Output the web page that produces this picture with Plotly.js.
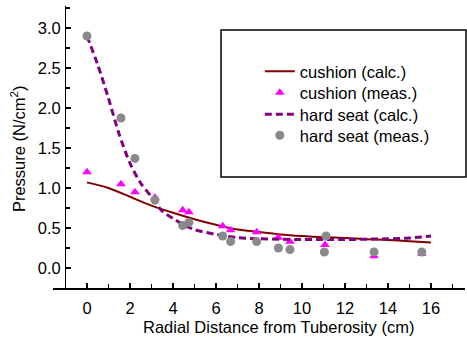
<!DOCTYPE html>
<html>
<head>
<meta charset="utf-8">
<script src="https://cdn.plot.ly/plotly-3.0.1.min.js"></script>
<style>html,body{margin:0;padding:0;background:#fff;}#chart{width:467px;height:341px;}</style>
</head>
<body>
<div id="chart"></div>
<script>
// Cushion calculated curve
const cushionCalcX = [0,1,2,3,4,5,6,7,8,9,10,11,12,13,14,15,16];
const cushionCalcY = [1.07,1.00,0.89,0.78,0.69,0.61,0.54,0.48,0.45,0.42,0.40,0.385,0.375,0.36,0.35,0.335,0.32];
// Cushion measured
const cushionMeasX = [0,1.58,2.23,3.16,4.45,4.74,6.31,6.68,7.89,8.9,9.44,11.07,13.35,15.57];
const cushionMeasY = [1.20,1.05,0.95,0.88,0.725,0.70,0.525,0.475,0.45,0.38,0.33,0.29,0.15,0.18];
// Hard seat calculated curve
const hardCalcX = [0,0.5,1,1.5,2,2.5,3,3.5,4,4.5,5,6,7,8,9,10,11,12,13,14,15,16];
const hardCalcY = [2.90,2.54,2.12,1.67,1.31,1.06,0.89,0.71,0.62,0.54,0.48,0.42,0.38,0.365,0.36,0.355,0.355,0.355,0.36,0.365,0.375,0.40];
// Hard seat measured
const hardMeasX = [0,1.58,2.23,3.16,4.45,4.74,6.31,6.68,7.89,8.9,9.44,11.04,11.12,13.35,15.57];
const hardMeasY = [2.90,1.875,1.37,0.85,0.53,0.57,0.40,0.33,0.33,0.25,0.23,0.20,0.40,0.20,0.20];

const seriesNames = ['cushion (calc.)','cushion (meas.)','hard seat (calc.)','hard seat (meas.)'];
const xTitle = 'Radial Distance from Tuberosity (cm)';
const yTitle = 'Pressure (N/cm<sup>2</sup>)';

const FONT = 'Liberation Sans, Arial, sans-serif';
const FS = 16.5;

const traces = [
  {x: cushionCalcX, y: cushionCalcY, name: seriesNames[0], mode: 'lines', legend: 'legend',
   line: {color: '#800000', width: 2, shape: 'spline', smoothing: 0.8}},
  {x: cushionMeasX, y: cushionMeasY, name: seriesNames[1], mode: 'markers', legend: 'legend2',
   marker: {symbol: 'triangle-up', size: 8.5, color: '#ff00ff'}},
  {x: hardCalcX, y: hardCalcY, name: seriesNames[2], mode: 'lines', legend: 'legend3',
   line: {color: '#800080', width: 3, dash: '7px,4px', shape: 'spline', smoothing: 0.8}},
  {x: hardMeasX, y: hardMeasY, name: seriesNames[3], mode: 'markers', legend: 'legend4',
   marker: {symbol: 'circle', size: 9, color: '#8a8a8a'}}
];

const axisCommon = {
  showline: true, linecolor: '#000', linewidth: 1.5,
  ticks: 'inside', ticklen: 5, tickwidth: 1.5, tickcolor: '#000',
  showgrid: false, zeroline: false,
  tickfont: {family: FONT, size: FS, color: '#000'}
};

function legendAt(y) {
  return {x: 0.502, y: y, xanchor: 'left', yanchor: 'top',
          bgcolor: 'rgba(0,0,0,0)', borderwidth: 0,
          font: {family: FONT, size: FS, color: '#000'}};
}

const layout = {
  width: 467, height: 341,
  margin: {l: 53, r: 2, t: 6, b: 53},
  paper_bgcolor: '#fff', plot_bgcolor: '#fff',
  font: {family: FONT, size: FS, color: '#000'},
  showlegend: true,
  legend: legendAt(0.8298),
  legend2: legendAt(0.7543),
  legend3: legendAt(0.6773),
  legend4: legendAt(0.6028),
  xaxis: Object.assign({}, axisCommon, {
    range: [-1.58, 17.58], tick0: 0, dtick: 2, ticklabelstandoff: 5,
    minor: {ticks: 'inside', dtick: 1, tick0: 0, ticklen: 4, tickwidth: 1.5, tickcolor: '#000'}
  }),
  yaxis: Object.assign({}, axisCommon, {
    range: [-0.25, 3.275], tick0: 0, dtick: 0.5, tickformat: '.1f',
    anchor: 'free', position: 0.029, ticklabelstandoff: 1,
    minor: {ticks: 'inside', dtick: 0.25, tick0: 0, ticklen: 4, tickwidth: 1.5, tickcolor: '#000'}
  }),
  shapes: [
    {type: 'rect', xref: 'paper', yref: 'paper', x0: 0.4078, x1: 1.0024, y0: 0.3936, y1: 0.9149,
     line: {color: '#000', width: 1.5}, fillcolor: 'rgba(0,0,0,0)', layer: 'above'}
  ],
  annotations: [
    {text: xTitle, xref: 'paper', yref: 'paper', x: 0.5485, y: -0.137,
     xanchor: 'center', yanchor: 'middle', showarrow: false,
     font: {family: FONT, size: FS, color: '#000'}},
    {text: yTitle, xref: 'paper', yref: 'paper', x: -0.085, y: 0.496,
     xanchor: 'center', yanchor: 'middle', showarrow: false, textangle: -90,
     font: {family: FONT, size: FS, color: '#000'}}
  ]
};

Plotly.newPlot('chart', traces, layout, {displayModeBar: false, staticPlot: true});
</script>
</body>
</html>
